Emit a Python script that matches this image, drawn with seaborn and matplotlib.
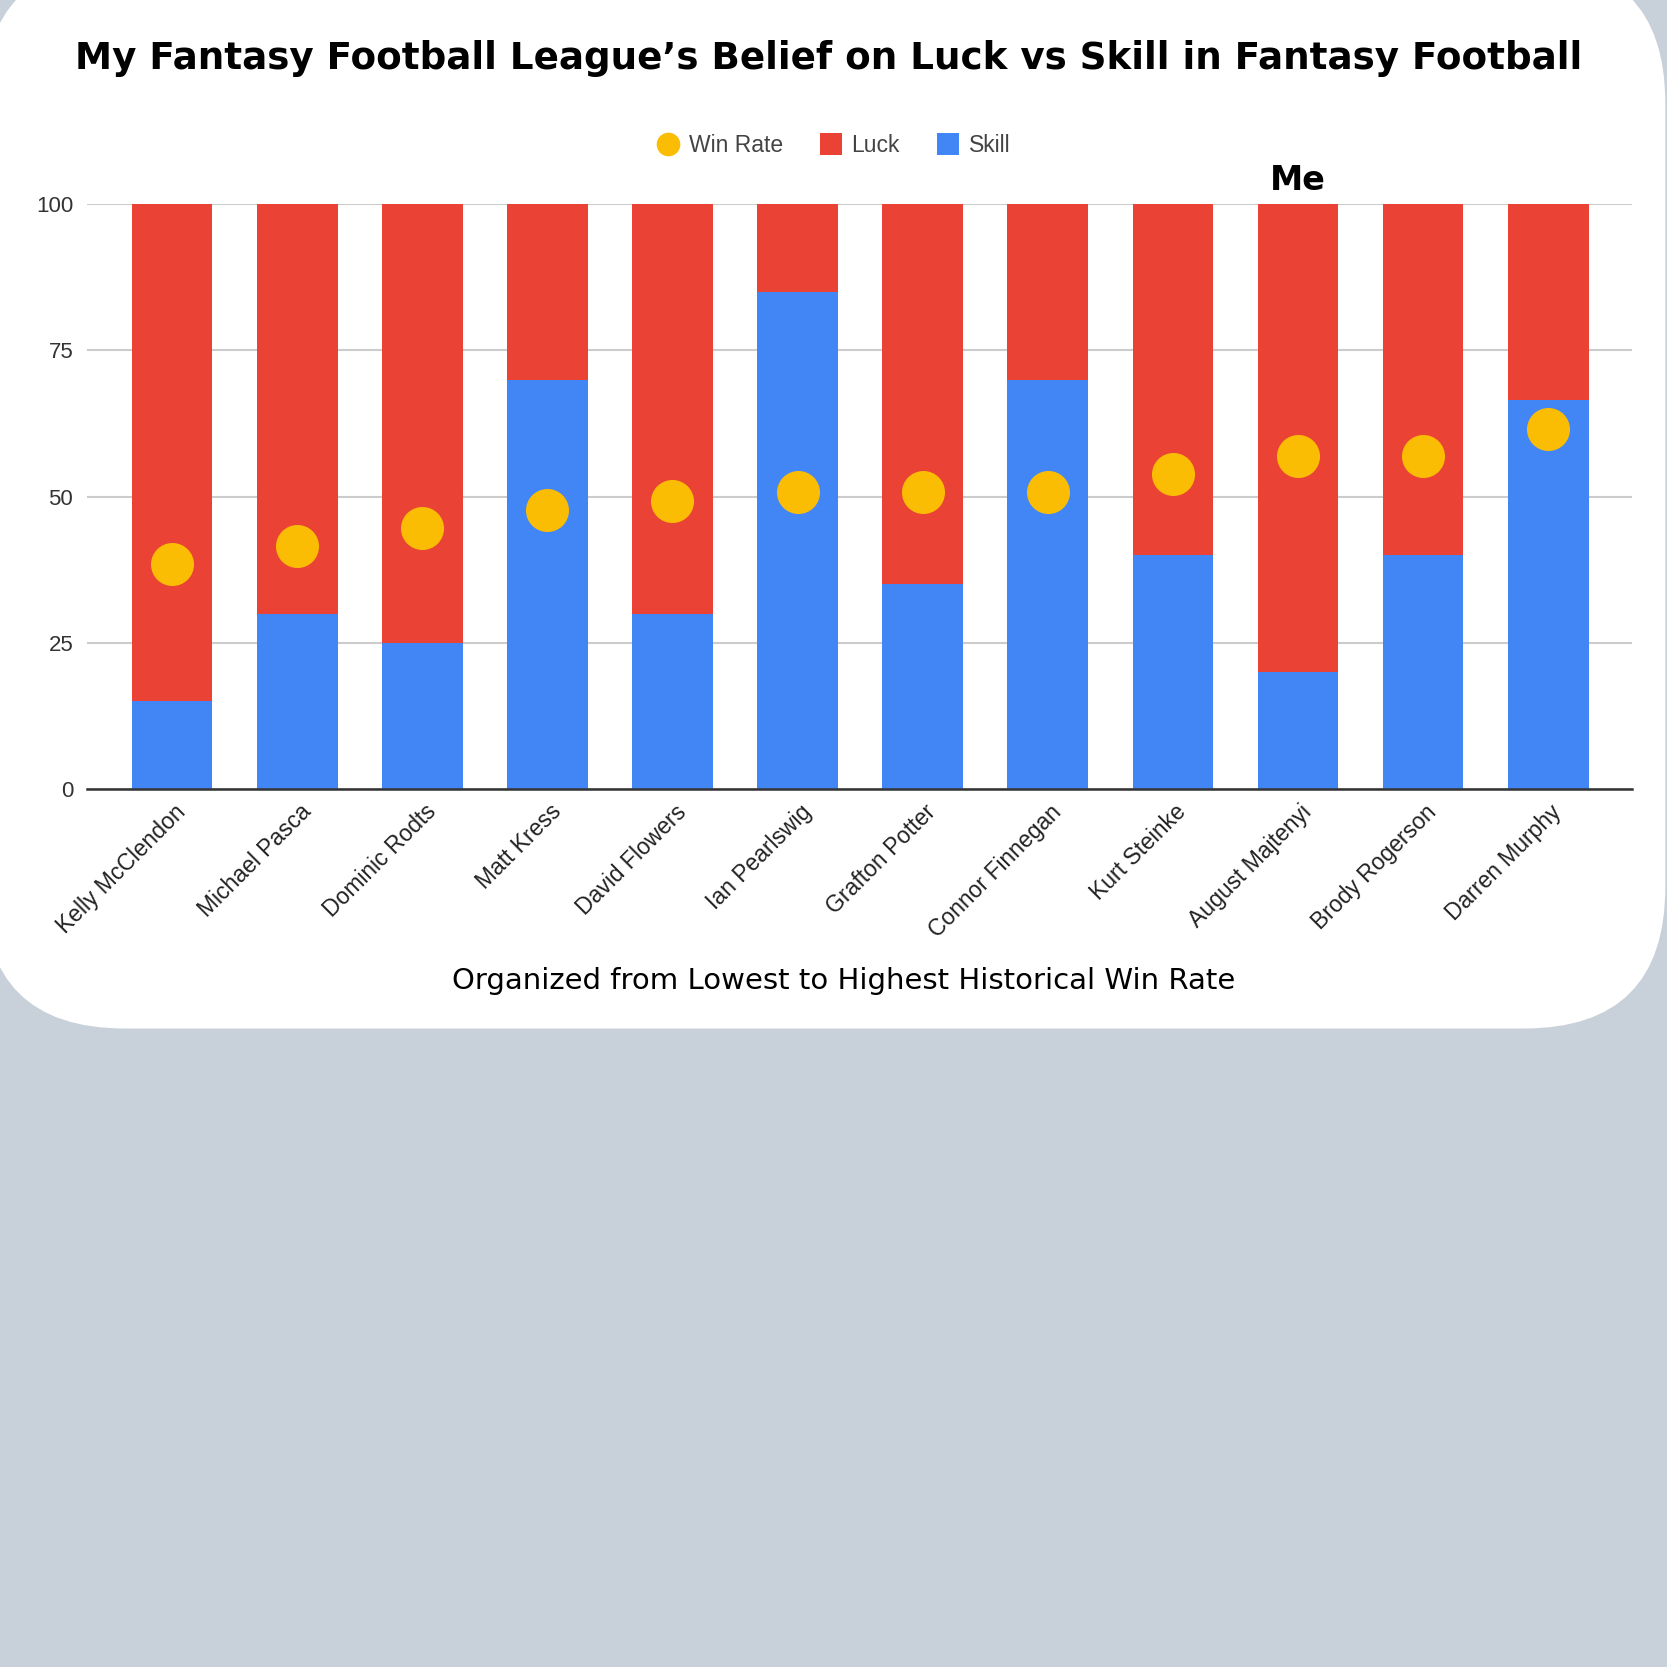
import matplotlib
matplotlib.use("Agg")
import matplotlib.pyplot as plt
from matplotlib.patches import FancyBboxPatch
from matplotlib.lines import Line2D
import matplotlib.transforms as mtransforms
import seaborn as sns
import numpy as np

players = ["Kelly McClendon", "Michael Pasca", "Dominic Rodts", "Matt Kress",
           "David Flowers", "Ian Pearlswig", "Grafton Potter", "Connor Finnegan",
           "Kurt Steinke", "August Majtenyi", "Brody Rogerson", "Darren Murphy"]
skill = [15, 30, 25, 70, 30, 85, 35, 70, 40, 20, 40, 66.5]
luck = [85, 70, 75, 30, 70, 15, 65, 30, 60, 80, 60, 33.5]
win_rate = [38.5, 41.5, 44.6, 47.7, 49.2, 50.8, 50.8, 50.8, 53.8, 56.9, 56.9, 61.5]
y_ticks = [0, 25, 50, 75, 100]

title = "My Fantasy Football League\u2019s Belief on Luck vs Skill in Fantasy Football"
xlabel = "Organized from Lowest to Highest Historical Win Rate"
me_label = "Me"
me_player = "August Majtenyi"

RED = "#EA4335"
BLUE = "#4285F4"
YELLOW = "#FBBC04"
BG = "#C8D0D9"

sns.set_theme(style="white")
plt.rcParams['font.family'] = ['Liberation Sans', 'DejaVu Sans']

fig = plt.figure(figsize=(16.67, 16.67), dpi=100)
fig.patch.set_facecolor(BG)

card = FancyBboxPatch((-0.01, 0.383), 1.009, 0.64,
                      boxstyle="round,pad=0,rounding_size=0.085",
                      transform=fig.transFigure, facecolor="white",
                      edgecolor="none", zorder=-10)
fig.patches.append(card)

ax = fig.add_axes([0.0522, 0.5267, 0.9268, 0.3509])
ax.set_facecolor("none")
ax.set_zorder(1)

total = [s + l for s, l in zip(skill, luck)]
sns.barplot(x=players, y=total, color=RED, width=0.645, saturation=1,
            edgecolor="none", linewidth=0, ax=ax, zorder=2)
sns.barplot(x=players, y=skill, color=BLUE, width=0.645, saturation=1,
            edgecolor="none", linewidth=0, ax=ax, zorder=3)
sns.pointplot(x=players, y=win_rate, color=YELLOW, linestyle="none",
              markers="o", markersize=31, errorbar=None, ax=ax, zorder=4)
for coll in ax.collections:
    coll.set_zorder(5)
for ln in ax.lines:
    ln.set_zorder(5)
    ln.set_markeredgewidth(0)

ax.set_ylim(0, 100)
ax.set_xlim(-0.68, len(players) - 0.33)
ax.set_yticks(y_ticks)
ax.set_yticklabels([str(t) for t in y_ticks], fontsize=16, color="#333333")
ax.yaxis.grid(True, color="#CCCCCC", linewidth=1.5, zorder=0)
ax.set_axisbelow(True)
for side in ["top", "right", "left"]:
    ax.spines[side].set_visible(False)
ax.spines["bottom"].set_color("#333333")
ax.spines["bottom"].set_linewidth(1.8)
ax.spines["bottom"].set_zorder(6)
ax.tick_params(axis="both", length=0)
ax.tick_params(axis="y", pad=10)
ax.tick_params(axis="x", pad=14)
ax.set_xticks(range(len(players)))
ax.set_xticklabels(players, rotation=45, ha="right", va="center",
                   rotation_mode="anchor", fontsize=16.5, color="#222222")
offset = mtransforms.ScaledTranslation(10 / 100, 0, fig.dpi_scale_trans)
for lbl in ax.get_xticklabels():
    lbl.set_transform(lbl.get_transform() + offset)
ax.set_xlabel(xlabel, fontsize=21, family=["DejaVu Sans"],
              color="black", labelpad=18, x=0.49)
ax.set_ylabel("")

# "Me" annotation
ax.annotate(me_label, xy=(players.index(me_player), 100), xytext=(0, 5),
            textcoords="offset points", ha="center", va="bottom",
            fontsize=24, fontweight="bold", family=["DejaVu Sans"], color="black")

fig.text(0.497, 0.965, title, ha="center", va="center", fontsize=26.8,
         fontweight="bold", family=["DejaVu Sans"], color="black")

handles = [
    Line2D([0], [0], marker="o", linestyle="none", markersize=17,
           markerfacecolor=YELLOW, markeredgewidth=0, label="Win Rate"),
    Line2D([0], [0], marker="s", linestyle="none", markersize=16,
           markerfacecolor=RED, markeredgewidth=0, label="Luck"),
    Line2D([0], [0], marker="s", linestyle="none", markersize=16,
           markerfacecolor=BLUE, markeredgewidth=0, label="Skill"),
]
fig.legend(handles=handles, loc="center", bbox_to_anchor=(0.5, 0.913),
           ncol=3, frameon=False, fontsize=16.5, handletextpad=0.4,
           columnspacing=1.6, handlelength=1.0, labelcolor="#444444")

fig.savefig("out.png", dpi=100, facecolor=BG)
